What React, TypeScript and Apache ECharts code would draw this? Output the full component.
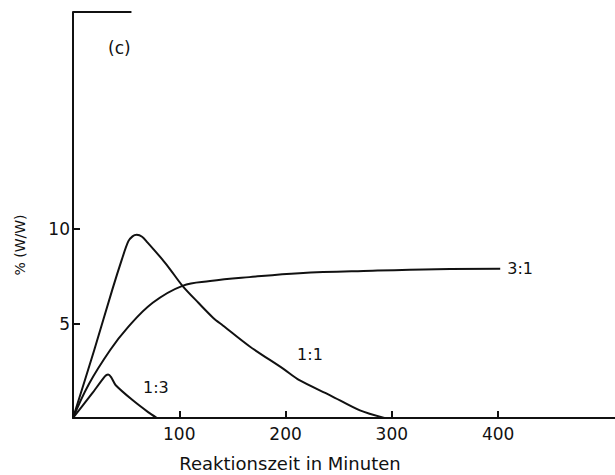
import React, { useEffect, useRef } from "react";
import * as echarts from "echarts";

const series11: [number, number][] = [
  [0, 0], [20, 3.6], [37, 6.8], [46, 8.4], [52, 9.35], [56, 9.62], [60, 9.7], [65, 9.6], [70, 9.3],
  [84, 8.4], [91, 7.9], [103, 7.0], [118, 6.1], [132, 5.3], [141, 4.9], [166, 3.8],
  [198, 2.6], [213, 2.0], [242, 1.2], [270, 0.4], [293, 0],
];
const series31: [number, number][] = [
  [0, 0], [15, 1.8], [35, 3.6], [51, 4.76], [75, 6.1], [103, 7.0], [129, 7.25],
  [166, 7.46], [213, 7.67], [282, 7.8], [342, 7.88], [402, 7.9],
];
const series13: [number, number][] = [
  [0, 0], [18, 1.3], [30, 2.2], [33, 2.3], [36, 2.15], [40, 1.75], [56, 0.95], [71, 0.3], [79, 0],
];
const xTicks = [100, 200, 300, 400];
const yTicks = [5, 10];
const xMax = 510;
const yMax = 21.5;
const frameTopEnd = 55;
const label11: [number, number] = [223, 3.35];
const label13: [number, number] = [78, 1.6];

const FONT = "DejaVu Sans";
const INK = "#111";

export default function App() {
  const ref = useRef<HTMLDivElement>(null);
  useEffect(() => {
    if (!ref.current) return;
    const chart = echarts.init(ref.current, null, { renderer: "svg" });
    const lineBase = {
      type: "line" as const,
      showSymbol: false,
      symbol: "none",
      smooth: 0.3,
      lineStyle: { color: INK, width: 2 },
      itemStyle: { color: INK },
    };
    const seriesLabel = { color: INK, fontFamily: FONT, fontSize: 16, fontWeight: 500 };
    chart.setOption({
      animation: false,
      backgroundColor: "#fff",
      grid: { left: 73, right: 0, top: 12, bottom: 57 },
      xAxis: {
        type: "value",
        min: 0,
        max: xMax,
        axisLine: { show: true, lineStyle: { color: INK, width: 2 } },
        axisTick: { show: true, inside: true, length: 7, customValues: xTicks, lineStyle: { color: INK, width: 2 } },
        axisLabel: { customValues: xTicks, color: INK, fontFamily: FONT, fontSize: 17, margin: 7 },
        splitLine: { show: false },
      },
      yAxis: {
        type: "value",
        min: 0,
        max: yMax,
        axisLine: { show: true, lineStyle: { color: INK, width: 2 } },
        axisTick: { show: true, inside: true, length: 7, customValues: yTicks, lineStyle: { color: INK, width: 2 } },
        axisLabel: { customValues: yTicks, color: INK, fontFamily: FONT, fontSize: 17, margin: 3 },
        splitLine: { show: false },
      },
      graphic: [
        {
          type: "text",
          x: 108,
          y: 48,
          style: { text: "(c)", font: `17px "${FONT}"`, fill: INK, verticalAlign: "middle" },
        },
        {
          type: "text",
          x: 290,
          y: 463,
          style: { text: "Reaktionszeit in Minuten", font: `18px "${FONT}"`, fill: INK, align: "center", verticalAlign: "middle" },
        },
        {
          type: "text",
          x: 20,
          y: 245,
          rotation: Math.PI / 2,
          style: { text: "% (W/W)", font: `14px "${FONT}"`, fill: INK, align: "center", verticalAlign: "middle" },
        },
      ],
      series: [
        {
          ...lineBase,
          name: "1:1",
          data: series11,
          markPoint: {
            symbol: "circle",
            symbolSize: 0,
            data: [{ coord: label11, value: "1:1" }],
            label: { show: true, position: "inside", formatter: "1:1", ...seriesLabel },
          },
          markLine: {
            silent: true,
            symbol: "none",
            lineStyle: { color: INK, width: 2, type: "solid" },
            label: { show: false },
            data: [[{ coord: [0, yMax] }, { coord: [frameTopEnd, yMax] }]],
          },
        },
        {
          ...lineBase,
          name: "3:1",
          smooth: 0.4,
          data: series31,
          endLabel: { show: true, formatter: "3:1", distance: 7, ...seriesLabel },
        },
        {
          ...lineBase,
          name: "1:3",
          smooth: 0.2,
          data: series13,
          markPoint: {
            symbol: "circle",
            symbolSize: 0,
            data: [{ coord: label13, value: "1:3" }],
            label: { show: true, position: "inside", formatter: "1:3", ...seriesLabel },
          },
        },
      ],
    });
    return () => chart.dispose();
  }, []);
  return <div ref={ref} style={{ position: "absolute", left: 0, top: 0, width: 615, height: 475 }} />;
}
